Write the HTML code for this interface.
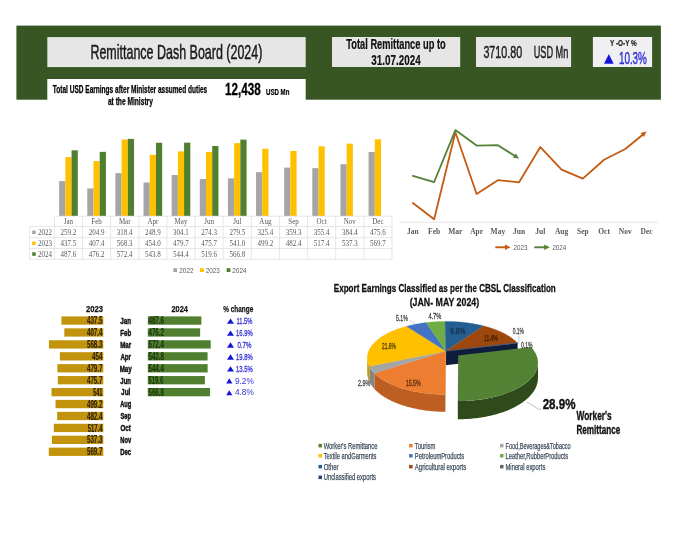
<!DOCTYPE html>
<html><head><meta charset="utf-8"><title>Remittance Dash Board (2024)</title>
<style>html,body{margin:0;padding:0;background:#fff}svg{display:block}</style></head>
<body>
<svg width="696" height="538" viewBox="0 0 696 538">
<rect width="696" height="538" fill="#ffffff"/>
<rect x="16.40" y="25.60" width="644.50" height="74.10" fill="#375623"/>
<rect x="47.30" y="37.10" width="258.40" height="30.00" fill="#e7e6e6"/>
<rect x="47.30" y="79.00" width="258.40" height="22.00" fill="#ffffff"/>
<rect x="332.00" y="37.00" width="128.20" height="30.00" fill="#e7e6e6"/>
<rect x="476.00" y="37.00" width="95.10" height="30.00" fill="#e7e6e6"/>
<rect x="592.90" y="37.00" width="59.20" height="30.00" fill="#f0f0f3"/>
<text x="176.40" y="59.00" font-family='"Liberation Sans", sans-serif' font-size="20.4" font-weight="normal" fill="#1a1a1a" text-anchor="middle" textLength="172.00" lengthAdjust="spacingAndGlyphs" stroke="#1a1a1a" stroke-width="0.5">Remittance Dash Board (2024)</text>
<text x="130.00" y="93.00" font-family='"Liberation Sans", sans-serif' font-size="10" font-weight="bold" fill="#000" text-anchor="middle" textLength="154.50" lengthAdjust="spacingAndGlyphs" stroke="#000" stroke-width="0.25">Total USD Earnings after Minister assumed duties</text>
<text x="130.40" y="104.90" font-family='"Liberation Sans", sans-serif' font-size="10" font-weight="bold" fill="#000" text-anchor="middle" textLength="45.00" lengthAdjust="spacingAndGlyphs" stroke="#000" stroke-width="0.25">at the Ministry</text>
<text x="225.00" y="95.00" font-family='"Liberation Sans", sans-serif' font-size="16.9" font-weight="bold" fill="#000" text-anchor="start" textLength="35.80" lengthAdjust="spacingAndGlyphs" stroke="#000" stroke-width="0.3">12,438</text>
<text x="266.00" y="95.00" font-family='"Liberation Sans", sans-serif' font-size="9.2" font-weight="bold" fill="#000" text-anchor="start" textLength="23.40" lengthAdjust="spacingAndGlyphs" stroke="#000" stroke-width="0.2">USD Mn</text>
<text x="396.00" y="48.50" font-family='"Liberation Sans", sans-serif' font-size="14.2" font-weight="bold" fill="#111" text-anchor="middle" textLength="99.30" lengthAdjust="spacingAndGlyphs" stroke="#111" stroke-width="0.2">Total Remittance up to</text>
<text x="396.00" y="65.20" font-family='"Liberation Sans", sans-serif' font-size="14.2" font-weight="bold" fill="#111" text-anchor="middle" textLength="49.40" lengthAdjust="spacingAndGlyphs" stroke="#111" stroke-width="0.2">31.07.2024</text>
<text x="483.40" y="57.80" font-family='"Liberation Sans", sans-serif' font-size="17.4" font-weight="normal" fill="#222" text-anchor="start" textLength="38.70" lengthAdjust="spacingAndGlyphs" stroke="#222" stroke-width="0.5">3710.80</text>
<text x="533.70" y="57.80" font-family='"Liberation Sans", sans-serif' font-size="16" font-weight="normal" fill="#222" text-anchor="start" textLength="34.60" lengthAdjust="spacingAndGlyphs" stroke="#222" stroke-width="0.5">USD Mn</text>
<text x="623.40" y="45.70" font-family='"Liberation Sans", sans-serif' font-size="8.6" font-weight="bold" fill="#222" text-anchor="middle" textLength="26.70" lengthAdjust="spacingAndGlyphs" stroke="#222" stroke-width="0.2">Y -O-Y %</text>
<path d="M604 63.7 L613.7 63.7 L608.85 54.1 Z" fill="#1414e0"/>
<text x="618.90" y="63.70" font-family='"Liberation Sans", sans-serif' font-size="16.4" font-weight="normal" fill="#3030d8" text-anchor="start" textLength="28.00" lengthAdjust="spacingAndGlyphs" stroke="#3030d8" stroke-width="0.45">10.3%</text>
<rect x="59.13" y="181.09" width="6.22" height="34.91" fill="#a5a5a5"/>
<rect x="65.35" y="157.07" width="6.22" height="58.93" fill="#ffc000"/>
<rect x="71.57" y="150.32" width="6.22" height="65.68" fill="#4f7f2f"/>
<rect x="87.26" y="188.40" width="6.22" height="27.60" fill="#a5a5a5"/>
<rect x="93.48" y="161.12" width="6.22" height="54.88" fill="#ffc000"/>
<rect x="99.70" y="151.86" width="6.22" height="64.14" fill="#4f7f2f"/>
<rect x="115.39" y="173.11" width="6.22" height="42.89" fill="#a5a5a5"/>
<rect x="121.61" y="139.45" width="6.22" height="76.55" fill="#ffc000"/>
<rect x="127.83" y="138.90" width="6.22" height="77.10" fill="#4f7f2f"/>
<rect x="143.52" y="182.47" width="6.22" height="33.53" fill="#a5a5a5"/>
<rect x="149.74" y="154.85" width="6.22" height="61.15" fill="#ffc000"/>
<rect x="155.96" y="142.75" width="6.22" height="73.25" fill="#4f7f2f"/>
<rect x="171.65" y="175.04" width="6.22" height="40.96" fill="#a5a5a5"/>
<rect x="177.87" y="151.38" width="6.22" height="64.62" fill="#ffc000"/>
<rect x="184.09" y="142.67" width="6.22" height="73.33" fill="#4f7f2f"/>
<rect x="199.78" y="179.05" width="6.22" height="36.95" fill="#a5a5a5"/>
<rect x="206.00" y="151.92" width="6.22" height="64.08" fill="#ffc000"/>
<rect x="212.22" y="146.01" width="6.22" height="69.99" fill="#4f7f2f"/>
<rect x="227.91" y="178.35" width="6.22" height="37.65" fill="#a5a5a5"/>
<rect x="234.13" y="143.13" width="6.22" height="72.87" fill="#ffc000"/>
<rect x="240.35" y="139.65" width="6.22" height="76.35" fill="#4f7f2f"/>
<rect x="256.04" y="172.17" width="6.22" height="43.83" fill="#a5a5a5"/>
<rect x="262.26" y="148.76" width="6.22" height="67.24" fill="#ffc000"/>
<rect x="284.17" y="167.60" width="6.22" height="48.40" fill="#a5a5a5"/>
<rect x="290.39" y="151.02" width="6.22" height="64.98" fill="#ffc000"/>
<rect x="312.30" y="168.13" width="6.22" height="47.87" fill="#a5a5a5"/>
<rect x="318.52" y="146.31" width="6.22" height="69.69" fill="#ffc000"/>
<rect x="340.43" y="164.22" width="6.22" height="51.78" fill="#a5a5a5"/>
<rect x="346.65" y="143.63" width="6.22" height="72.37" fill="#ffc000"/>
<rect x="368.56" y="151.94" width="6.22" height="64.06" fill="#a5a5a5"/>
<rect x="374.78" y="139.26" width="6.22" height="76.74" fill="#ffc000"/>
<path d="M54.40 216.20H391.96 M29.60 226.50H391.96 M29.60 237.70H391.96 M29.60 248.50H391.96 M29.60 259.30H391.96 M54.40 216.20V259.30 M82.53 216.20V259.30 M110.66 216.20V259.30 M138.79 216.20V259.30 M166.92 216.20V259.30 M195.05 216.20V259.30 M223.18 216.20V259.30 M251.31 216.20V259.30 M279.44 216.20V259.30 M307.57 216.20V259.30 M335.70 216.20V259.30 M363.83 216.20V259.30 M391.96 216.20V259.30 M29.6 226.50V259.30" stroke="#dcdcdc" stroke-width="0.7" fill="none"/>
<text x="68.47" y="223.80" font-family='"Liberation Serif", serif' font-size="8.2" font-weight="normal" fill="#595959" text-anchor="middle" textLength="9.33" lengthAdjust="spacingAndGlyphs">Jan</text>
<text x="68.47" y="235.20" font-family='"Liberation Serif", serif' font-size="8.2" font-weight="normal" fill="#595959" text-anchor="middle" textLength="15.75" lengthAdjust="spacingAndGlyphs">259.2</text>
<text x="68.47" y="246.20" font-family='"Liberation Serif", serif' font-size="8.2" font-weight="normal" fill="#595959" text-anchor="middle" textLength="15.75" lengthAdjust="spacingAndGlyphs">437.5</text>
<text x="68.47" y="257.00" font-family='"Liberation Serif", serif' font-size="8.2" font-weight="normal" fill="#595959" text-anchor="middle" textLength="15.75" lengthAdjust="spacingAndGlyphs">487.6</text>
<text x="96.59" y="223.80" font-family='"Liberation Serif", serif' font-size="8.2" font-weight="normal" fill="#595959" text-anchor="middle" textLength="10.50" lengthAdjust="spacingAndGlyphs">Feb</text>
<text x="96.59" y="235.20" font-family='"Liberation Serif", serif' font-size="8.2" font-weight="normal" fill="#595959" text-anchor="middle" textLength="15.75" lengthAdjust="spacingAndGlyphs">204.9</text>
<text x="96.59" y="246.20" font-family='"Liberation Serif", serif' font-size="8.2" font-weight="normal" fill="#595959" text-anchor="middle" textLength="15.75" lengthAdjust="spacingAndGlyphs">407.4</text>
<text x="96.59" y="257.00" font-family='"Liberation Serif", serif' font-size="8.2" font-weight="normal" fill="#595959" text-anchor="middle" textLength="15.75" lengthAdjust="spacingAndGlyphs">476.2</text>
<text x="124.72" y="223.80" font-family='"Liberation Serif", serif' font-size="8.2" font-weight="normal" fill="#595959" text-anchor="middle" textLength="11.66" lengthAdjust="spacingAndGlyphs">Mar</text>
<text x="124.72" y="235.20" font-family='"Liberation Serif", serif' font-size="8.2" font-weight="normal" fill="#595959" text-anchor="middle" textLength="15.75" lengthAdjust="spacingAndGlyphs">318.4</text>
<text x="124.72" y="246.20" font-family='"Liberation Serif", serif' font-size="8.2" font-weight="normal" fill="#595959" text-anchor="middle" textLength="15.75" lengthAdjust="spacingAndGlyphs">568.3</text>
<text x="124.72" y="257.00" font-family='"Liberation Serif", serif' font-size="8.2" font-weight="normal" fill="#595959" text-anchor="middle" textLength="15.75" lengthAdjust="spacingAndGlyphs">572.4</text>
<text x="152.85" y="223.80" font-family='"Liberation Serif", serif' font-size="8.2" font-weight="normal" fill="#595959" text-anchor="middle" textLength="10.89" lengthAdjust="spacingAndGlyphs">Apr</text>
<text x="152.85" y="235.20" font-family='"Liberation Serif", serif' font-size="8.2" font-weight="normal" fill="#595959" text-anchor="middle" textLength="15.75" lengthAdjust="spacingAndGlyphs">248.9</text>
<text x="152.85" y="246.20" font-family='"Liberation Serif", serif' font-size="8.2" font-weight="normal" fill="#595959" text-anchor="middle" textLength="15.75" lengthAdjust="spacingAndGlyphs">454.0</text>
<text x="152.85" y="257.00" font-family='"Liberation Serif", serif' font-size="8.2" font-weight="normal" fill="#595959" text-anchor="middle" textLength="15.75" lengthAdjust="spacingAndGlyphs">543.8</text>
<text x="180.98" y="223.80" font-family='"Liberation Serif", serif' font-size="8.2" font-weight="normal" fill="#595959" text-anchor="middle" textLength="12.83" lengthAdjust="spacingAndGlyphs">May</text>
<text x="180.98" y="235.20" font-family='"Liberation Serif", serif' font-size="8.2" font-weight="normal" fill="#595959" text-anchor="middle" textLength="15.75" lengthAdjust="spacingAndGlyphs">304.1</text>
<text x="180.98" y="246.20" font-family='"Liberation Serif", serif' font-size="8.2" font-weight="normal" fill="#595959" text-anchor="middle" textLength="15.75" lengthAdjust="spacingAndGlyphs">479.7</text>
<text x="180.98" y="257.00" font-family='"Liberation Serif", serif' font-size="8.2" font-weight="normal" fill="#595959" text-anchor="middle" textLength="15.75" lengthAdjust="spacingAndGlyphs">544.4</text>
<text x="209.12" y="223.80" font-family='"Liberation Serif", serif' font-size="8.2" font-weight="normal" fill="#595959" text-anchor="middle" textLength="9.72" lengthAdjust="spacingAndGlyphs">Jun</text>
<text x="209.12" y="235.20" font-family='"Liberation Serif", serif' font-size="8.2" font-weight="normal" fill="#595959" text-anchor="middle" textLength="15.75" lengthAdjust="spacingAndGlyphs">274.3</text>
<text x="209.12" y="246.20" font-family='"Liberation Serif", serif' font-size="8.2" font-weight="normal" fill="#595959" text-anchor="middle" textLength="15.75" lengthAdjust="spacingAndGlyphs">475.7</text>
<text x="209.12" y="257.00" font-family='"Liberation Serif", serif' font-size="8.2" font-weight="normal" fill="#595959" text-anchor="middle" textLength="15.75" lengthAdjust="spacingAndGlyphs">519.6</text>
<text x="237.25" y="223.80" font-family='"Liberation Serif", serif' font-size="8.2" font-weight="normal" fill="#595959" text-anchor="middle" textLength="8.17" lengthAdjust="spacingAndGlyphs">Jul</text>
<text x="237.25" y="235.20" font-family='"Liberation Serif", serif' font-size="8.2" font-weight="normal" fill="#595959" text-anchor="middle" textLength="15.75" lengthAdjust="spacingAndGlyphs">279.5</text>
<text x="237.25" y="246.20" font-family='"Liberation Serif", serif' font-size="8.2" font-weight="normal" fill="#595959" text-anchor="middle" textLength="15.75" lengthAdjust="spacingAndGlyphs">541.0</text>
<text x="237.25" y="257.00" font-family='"Liberation Serif", serif' font-size="8.2" font-weight="normal" fill="#595959" text-anchor="middle" textLength="15.75" lengthAdjust="spacingAndGlyphs">566.8</text>
<text x="265.38" y="223.80" font-family='"Liberation Serif", serif' font-size="8.2" font-weight="normal" fill="#595959" text-anchor="middle" textLength="12.06" lengthAdjust="spacingAndGlyphs">Aug</text>
<text x="265.38" y="235.20" font-family='"Liberation Serif", serif' font-size="8.2" font-weight="normal" fill="#595959" text-anchor="middle" textLength="15.75" lengthAdjust="spacingAndGlyphs">325.4</text>
<text x="265.38" y="246.20" font-family='"Liberation Serif", serif' font-size="8.2" font-weight="normal" fill="#595959" text-anchor="middle" textLength="15.75" lengthAdjust="spacingAndGlyphs">499.2</text>
<text x="293.50" y="223.80" font-family='"Liberation Serif", serif' font-size="8.2" font-weight="normal" fill="#595959" text-anchor="middle" textLength="10.50" lengthAdjust="spacingAndGlyphs">Sep</text>
<text x="293.50" y="235.20" font-family='"Liberation Serif", serif' font-size="8.2" font-weight="normal" fill="#595959" text-anchor="middle" textLength="15.75" lengthAdjust="spacingAndGlyphs">359.3</text>
<text x="293.50" y="246.20" font-family='"Liberation Serif", serif' font-size="8.2" font-weight="normal" fill="#595959" text-anchor="middle" textLength="15.75" lengthAdjust="spacingAndGlyphs">482.4</text>
<text x="321.63" y="223.80" font-family='"Liberation Serif", serif' font-size="8.2" font-weight="normal" fill="#595959" text-anchor="middle" textLength="10.11" lengthAdjust="spacingAndGlyphs">Oct</text>
<text x="321.63" y="235.20" font-family='"Liberation Serif", serif' font-size="8.2" font-weight="normal" fill="#595959" text-anchor="middle" textLength="15.75" lengthAdjust="spacingAndGlyphs">355.4</text>
<text x="321.63" y="246.20" font-family='"Liberation Serif", serif' font-size="8.2" font-weight="normal" fill="#595959" text-anchor="middle" textLength="15.75" lengthAdjust="spacingAndGlyphs">517.4</text>
<text x="349.76" y="223.80" font-family='"Liberation Serif", serif' font-size="8.2" font-weight="normal" fill="#595959" text-anchor="middle" textLength="12.06" lengthAdjust="spacingAndGlyphs">Nov</text>
<text x="349.76" y="235.20" font-family='"Liberation Serif", serif' font-size="8.2" font-weight="normal" fill="#595959" text-anchor="middle" textLength="15.75" lengthAdjust="spacingAndGlyphs">384.4</text>
<text x="349.76" y="246.20" font-family='"Liberation Serif", serif' font-size="8.2" font-weight="normal" fill="#595959" text-anchor="middle" textLength="15.75" lengthAdjust="spacingAndGlyphs">537.3</text>
<text x="377.89" y="223.80" font-family='"Liberation Serif", serif' font-size="8.2" font-weight="normal" fill="#595959" text-anchor="middle" textLength="11.27" lengthAdjust="spacingAndGlyphs">Dec</text>
<text x="377.89" y="235.20" font-family='"Liberation Serif", serif' font-size="8.2" font-weight="normal" fill="#595959" text-anchor="middle" textLength="15.75" lengthAdjust="spacingAndGlyphs">475.6</text>
<text x="377.89" y="246.20" font-family='"Liberation Serif", serif' font-size="8.2" font-weight="normal" fill="#595959" text-anchor="middle" textLength="15.75" lengthAdjust="spacingAndGlyphs">569.7</text>
<rect x="32.20" y="230.50" width="3.50" height="3.50" fill="#a5a5a5"/>
<text x="37.90" y="235.20" font-family='"Liberation Serif", serif' font-size="8.2" font-weight="normal" fill="#595959" text-anchor="start" textLength="14.00" lengthAdjust="spacingAndGlyphs">2022</text>
<rect x="32.20" y="241.50" width="3.50" height="3.50" fill="#ffc000"/>
<text x="37.90" y="246.20" font-family='"Liberation Serif", serif' font-size="8.2" font-weight="normal" fill="#595959" text-anchor="start" textLength="14.00" lengthAdjust="spacingAndGlyphs">2023</text>
<rect x="32.20" y="252.30" width="3.50" height="3.50" fill="#4f7f2f"/>
<text x="37.90" y="257.00" font-family='"Liberation Serif", serif' font-size="8.2" font-weight="normal" fill="#595959" text-anchor="start" textLength="14.00" lengthAdjust="spacingAndGlyphs">2024</text>
<rect x="173.30" y="268.20" width="3.80" height="3.80" fill="#a5a5a5"/>
<text x="179.30" y="272.60" font-family='"Liberation Sans", sans-serif' font-size="7.4" font-weight="normal" fill="#595959" text-anchor="start" textLength="14.20" lengthAdjust="spacingAndGlyphs">2022</text>
<rect x="200.00" y="268.20" width="3.80" height="3.80" fill="#ffc000"/>
<text x="205.70" y="272.60" font-family='"Liberation Sans", sans-serif' font-size="7.4" font-weight="normal" fill="#595959" text-anchor="start" textLength="14.20" lengthAdjust="spacingAndGlyphs">2023</text>
<rect x="226.60" y="268.20" width="3.80" height="3.80" fill="#4f7f2f"/>
<text x="232.30" y="272.60" font-family='"Liberation Sans", sans-serif' font-size="7.4" font-weight="normal" fill="#595959" text-anchor="start" textLength="14.20" lengthAdjust="spacingAndGlyphs">2024</text>
<path d="M399.5 222.3H657.6" stroke="#e0e0e0" stroke-width="0.8" fill="none"/>
<path d="M412.90 202.93 L434.14 219.19 L455.38 132.30 L476.62 194.02 L497.86 180.14 L519.10 182.30 L540.34 147.04 L561.58 169.61 L582.82 178.69 L604.06 159.79 L625.30 149.04 L644.22 133.45" stroke="#c55a11" stroke-width="1.8" fill="none" stroke-linejoin="round" stroke-linecap="round"/>
<path d="M646.54 131.54 L643.87 137.11 L640.56 133.10Z" fill="#c55a11"/>
<path d="M412.90 175.88 L434.14 182.03 L455.38 130.09 L476.62 145.53 L497.86 145.21 L516.56 157.00" stroke="#538135" stroke-width="1.8" fill="none" stroke-linejoin="round" stroke-linecap="round"/>
<path d="M519.10 158.60 L512.98 157.81 L515.75 153.41Z" fill="#538135"/>
<text x="412.90" y="233.60" font-family='"Liberation Serif", serif' font-size="8.2" font-weight="bold" fill="#595959" text-anchor="middle" textLength="11.67" lengthAdjust="spacingAndGlyphs">Jan</text>
<text x="434.14" y="233.60" font-family='"Liberation Serif", serif' font-size="8.2" font-weight="bold" fill="#595959" text-anchor="middle" textLength="12.08" lengthAdjust="spacingAndGlyphs">Feb</text>
<text x="455.38" y="233.60" font-family='"Liberation Serif", serif' font-size="8.2" font-weight="bold" fill="#595959" text-anchor="middle" textLength="14.16" lengthAdjust="spacingAndGlyphs">Mar</text>
<text x="476.62" y="233.60" font-family='"Liberation Serif", serif' font-size="8.2" font-weight="bold" fill="#595959" text-anchor="middle" textLength="12.92" lengthAdjust="spacingAndGlyphs">Apr</text>
<text x="497.86" y="233.60" font-family='"Liberation Serif", serif' font-size="8.2" font-weight="bold" fill="#595959" text-anchor="middle" textLength="14.58" lengthAdjust="spacingAndGlyphs">May</text>
<text x="519.10" y="233.60" font-family='"Liberation Serif", serif' font-size="8.2" font-weight="bold" fill="#595959" text-anchor="middle" textLength="12.09" lengthAdjust="spacingAndGlyphs">Jun</text>
<text x="540.34" y="233.60" font-family='"Liberation Serif", serif' font-size="8.2" font-weight="bold" fill="#595959" text-anchor="middle" textLength="10.00" lengthAdjust="spacingAndGlyphs">Jul</text>
<text x="561.58" y="233.60" font-family='"Liberation Serif", serif' font-size="8.2" font-weight="bold" fill="#595959" text-anchor="middle" textLength="13.34" lengthAdjust="spacingAndGlyphs">Aug</text>
<text x="582.82" y="233.60" font-family='"Liberation Serif", serif' font-size="8.2" font-weight="bold" fill="#595959" text-anchor="middle" textLength="11.67" lengthAdjust="spacingAndGlyphs">Sep</text>
<text x="604.06" y="233.60" font-family='"Liberation Serif", serif' font-size="8.2" font-weight="bold" fill="#595959" text-anchor="middle" textLength="11.66" lengthAdjust="spacingAndGlyphs">Oct</text>
<text x="625.30" y="233.60" font-family='"Liberation Serif", serif' font-size="8.2" font-weight="bold" fill="#595959" text-anchor="middle" textLength="12.92" lengthAdjust="spacingAndGlyphs">Nov</text>
<text x="646.54" y="233.60" font-family='"Liberation Serif", serif' font-size="8.2" font-weight="bold" fill="#595959" text-anchor="middle" textLength="12.07" lengthAdjust="spacingAndGlyphs">Dec</text>
<path d="M495.3 247.3H506" stroke="#c55a11" stroke-width="1.9"/>
<path d="M510.60 247.30 L505.00 250.00 L505.00 244.60Z" fill="#c55a11"/>
<path d="M534.3 247.3H545" stroke="#538135" stroke-width="1.9"/>
<path d="M549.80 247.30 L544.20 250.00 L544.20 244.60Z" fill="#538135"/>
<text x="513.50" y="250.00" font-family='"Liberation Sans", sans-serif' font-size="7.5" font-weight="normal" fill="#595959" text-anchor="start" textLength="13.90" lengthAdjust="spacingAndGlyphs">2023</text>
<text x="552.40" y="250.00" font-family='"Liberation Sans", sans-serif' font-size="7.5" font-weight="normal" fill="#595959" text-anchor="start" textLength="13.90" lengthAdjust="spacingAndGlyphs">2024</text>
<text x="103.00" y="311.90" font-family='"Liberation Sans", sans-serif' font-size="9.6" font-weight="bold" fill="#111" text-anchor="end" textLength="17.00" lengthAdjust="spacingAndGlyphs" stroke="#111" stroke-width="0.25">2023</text>
<text x="179.70" y="311.90" font-family='"Liberation Sans", sans-serif' font-size="9.6" font-weight="bold" fill="#111" text-anchor="middle" textLength="16.40" lengthAdjust="spacingAndGlyphs" stroke="#111" stroke-width="0.25">2024</text>
<text x="238.30" y="311.90" font-family='"Liberation Sans", sans-serif' font-size="9.6" font-weight="bold" fill="#111" text-anchor="middle" textLength="30.00" lengthAdjust="spacingAndGlyphs" stroke="#111" stroke-width="0.25">% change</text>
<rect x="61.43" y="316.40" width="41.87" height="8.30" fill="#c2940e"/>
<text x="102.60" y="324.15" font-family='"Liberation Sans", sans-serif' font-size="10.2" font-weight="bold" fill="#33270a" text-anchor="end" textLength="15.70" lengthAdjust="spacingAndGlyphs" stroke="#33270a" stroke-width="0.2">437.5</text>
<text x="125.70" y="323.85" font-family='"Liberation Sans", sans-serif' font-size="9.4" font-weight="bold" fill="#111" text-anchor="middle" textLength="10.70" lengthAdjust="spacingAndGlyphs" stroke="#111" stroke-width="0.5">Jan</text>
<rect x="147.80" y="316.40" width="53.59" height="8.30" fill="#4f7f2f"/>
<text x="148.40" y="324.15" font-family='"Liberation Sans", sans-serif' font-size="10.2" font-weight="bold" fill="#1f3a0c" text-anchor="start" textLength="15.70" lengthAdjust="spacingAndGlyphs" stroke="#1f3a0c" stroke-width="0.2">487.6</text>
<path d="M227 323.85h7l-3.5 -5.4z" fill="#1414e0"/>
<text x="244.40" y="323.95" font-family='"Liberation Sans", sans-serif' font-size="9.3" font-weight="normal" fill="#3030d8" text-anchor="middle" textLength="15.90" lengthAdjust="spacingAndGlyphs" stroke="#3030d8" stroke-width="0.3">11.5%</text>
<rect x="64.31" y="328.33" width="38.99" height="8.30" fill="#c2940e"/>
<text x="102.60" y="336.08" font-family='"Liberation Sans", sans-serif' font-size="10.2" font-weight="bold" fill="#33270a" text-anchor="end" textLength="15.70" lengthAdjust="spacingAndGlyphs" stroke="#33270a" stroke-width="0.2">407.4</text>
<text x="125.70" y="335.78" font-family='"Liberation Sans", sans-serif' font-size="9.4" font-weight="bold" fill="#111" text-anchor="middle" textLength="10.80" lengthAdjust="spacingAndGlyphs" stroke="#111" stroke-width="0.5">Feb</text>
<rect x="147.80" y="328.33" width="52.33" height="8.30" fill="#4f7f2f"/>
<text x="148.40" y="336.08" font-family='"Liberation Sans", sans-serif' font-size="10.2" font-weight="bold" fill="#1f3a0c" text-anchor="start" textLength="15.70" lengthAdjust="spacingAndGlyphs" stroke="#1f3a0c" stroke-width="0.2">476.2</text>
<path d="M227 335.78h7l-3.5 -5.4z" fill="#1414e0"/>
<text x="244.40" y="335.88" font-family='"Liberation Sans", sans-serif' font-size="9.3" font-weight="normal" fill="#3030d8" text-anchor="middle" textLength="16.70" lengthAdjust="spacingAndGlyphs" stroke="#3030d8" stroke-width="0.3">16.9%</text>
<rect x="48.91" y="340.26" width="54.39" height="8.30" fill="#c2940e"/>
<text x="102.60" y="348.01" font-family='"Liberation Sans", sans-serif' font-size="10.2" font-weight="bold" fill="#33270a" text-anchor="end" textLength="15.70" lengthAdjust="spacingAndGlyphs" stroke="#33270a" stroke-width="0.2">568.3</text>
<text x="125.70" y="347.71" font-family='"Liberation Sans", sans-serif' font-size="9.4" font-weight="bold" fill="#111" text-anchor="middle" textLength="11.00" lengthAdjust="spacingAndGlyphs" stroke="#111" stroke-width="0.5">Mar</text>
<rect x="147.80" y="340.26" width="62.91" height="8.30" fill="#4f7f2f"/>
<text x="148.40" y="348.01" font-family='"Liberation Sans", sans-serif' font-size="10.2" font-weight="bold" fill="#1f3a0c" text-anchor="start" textLength="15.70" lengthAdjust="spacingAndGlyphs" stroke="#1f3a0c" stroke-width="0.2">572.4</text>
<path d="M227 347.71h7l-3.5 -5.4z" fill="#1414e0"/>
<text x="244.40" y="347.81" font-family='"Liberation Sans", sans-serif' font-size="9.3" font-weight="normal" fill="#3030d8" text-anchor="middle" textLength="14.00" lengthAdjust="spacingAndGlyphs" stroke="#3030d8" stroke-width="0.3">0.7%</text>
<rect x="59.85" y="352.19" width="43.45" height="8.30" fill="#c2940e"/>
<text x="102.60" y="359.94" font-family='"Liberation Sans", sans-serif' font-size="10.2" font-weight="bold" fill="#33270a" text-anchor="end" textLength="10.50" lengthAdjust="spacingAndGlyphs" stroke="#33270a" stroke-width="0.2">454</text>
<text x="125.70" y="359.64" font-family='"Liberation Sans", sans-serif' font-size="9.4" font-weight="bold" fill="#111" text-anchor="middle" textLength="10.60" lengthAdjust="spacingAndGlyphs" stroke="#111" stroke-width="0.5">Apr</text>
<rect x="147.80" y="352.19" width="59.76" height="8.30" fill="#4f7f2f"/>
<text x="148.40" y="359.94" font-family='"Liberation Sans", sans-serif' font-size="10.2" font-weight="bold" fill="#1f3a0c" text-anchor="start" textLength="15.70" lengthAdjust="spacingAndGlyphs" stroke="#1f3a0c" stroke-width="0.2">543.8</text>
<path d="M227 359.64h7l-3.5 -5.4z" fill="#1414e0"/>
<text x="244.40" y="359.74" font-family='"Liberation Sans", sans-serif' font-size="9.3" font-weight="normal" fill="#3030d8" text-anchor="middle" textLength="16.70" lengthAdjust="spacingAndGlyphs" stroke="#3030d8" stroke-width="0.3">19.8%</text>
<rect x="57.39" y="364.12" width="45.91" height="8.30" fill="#c2940e"/>
<text x="102.60" y="371.87" font-family='"Liberation Sans", sans-serif' font-size="10.2" font-weight="bold" fill="#33270a" text-anchor="end" textLength="15.70" lengthAdjust="spacingAndGlyphs" stroke="#33270a" stroke-width="0.2">479.7</text>
<text x="125.70" y="371.57" font-family='"Liberation Sans", sans-serif' font-size="9.4" font-weight="bold" fill="#111" text-anchor="middle" textLength="12.10" lengthAdjust="spacingAndGlyphs" stroke="#111" stroke-width="0.5">May</text>
<rect x="147.80" y="364.12" width="59.83" height="8.30" fill="#4f7f2f"/>
<text x="148.40" y="371.87" font-family='"Liberation Sans", sans-serif' font-size="10.2" font-weight="bold" fill="#1f3a0c" text-anchor="start" textLength="15.70" lengthAdjust="spacingAndGlyphs" stroke="#1f3a0c" stroke-width="0.2">544.4</text>
<path d="M227 371.57h7l-3.5 -5.4z" fill="#1414e0"/>
<text x="244.40" y="371.67" font-family='"Liberation Sans", sans-serif' font-size="9.3" font-weight="normal" fill="#3030d8" text-anchor="middle" textLength="16.70" lengthAdjust="spacingAndGlyphs" stroke="#3030d8" stroke-width="0.3">13.5%</text>
<rect x="57.78" y="376.05" width="45.52" height="8.30" fill="#c2940e"/>
<text x="102.60" y="383.80" font-family='"Liberation Sans", sans-serif' font-size="10.2" font-weight="bold" fill="#33270a" text-anchor="end" textLength="15.70" lengthAdjust="spacingAndGlyphs" stroke="#33270a" stroke-width="0.2">475.7</text>
<text x="125.70" y="383.50" font-family='"Liberation Sans", sans-serif' font-size="9.4" font-weight="bold" fill="#111" text-anchor="middle" textLength="10.70" lengthAdjust="spacingAndGlyphs" stroke="#111" stroke-width="0.5">Jun</text>
<rect x="147.80" y="376.05" width="57.10" height="8.30" fill="#4f7f2f"/>
<text x="148.40" y="383.80" font-family='"Liberation Sans", sans-serif' font-size="10.2" font-weight="bold" fill="#1f3a0c" text-anchor="start" textLength="14.90" lengthAdjust="spacingAndGlyphs" stroke="#1f3a0c" stroke-width="0.2">519.6</text>
<path d="M226.2 383.40h6.2l-3.1 -5.2z" fill="#1414e0"/>
<text x="244.40" y="383.50" font-family='"Liberation Sans", sans-serif' font-size="8.3" font-weight="normal" fill="#3030d8" text-anchor="middle">9.2%</text>
<rect x="51.53" y="387.98" width="51.77" height="8.30" fill="#c2940e"/>
<text x="102.60" y="395.73" font-family='"Liberation Sans", sans-serif' font-size="10.2" font-weight="bold" fill="#33270a" text-anchor="end" textLength="9.70" lengthAdjust="spacingAndGlyphs" stroke="#33270a" stroke-width="0.2">541</text>
<text x="125.70" y="395.43" font-family='"Liberation Sans", sans-serif' font-size="9.4" font-weight="bold" fill="#111" text-anchor="middle" textLength="9.20" lengthAdjust="spacingAndGlyphs" stroke="#111" stroke-width="0.5">Jul</text>
<rect x="147.80" y="387.98" width="62.29" height="8.30" fill="#4f7f2f"/>
<text x="148.40" y="395.73" font-family='"Liberation Sans", sans-serif' font-size="10.2" font-weight="bold" fill="#1f3a0c" text-anchor="start" textLength="15.70" lengthAdjust="spacingAndGlyphs" stroke="#1f3a0c" stroke-width="0.2">566.8</text>
<path d="M226.2 395.33h6.2l-3.1 -5.2z" fill="#1414e0"/>
<text x="244.40" y="395.43" font-family='"Liberation Sans", sans-serif' font-size="8.3" font-weight="normal" fill="#3030d8" text-anchor="middle">4.8%</text>
<rect x="55.53" y="399.91" width="47.77" height="8.30" fill="#c2940e"/>
<text x="102.60" y="407.66" font-family='"Liberation Sans", sans-serif' font-size="10.2" font-weight="bold" fill="#33270a" text-anchor="end" textLength="15.70" lengthAdjust="spacingAndGlyphs" stroke="#33270a" stroke-width="0.2">499.2</text>
<text x="125.70" y="407.36" font-family='"Liberation Sans", sans-serif' font-size="9.4" font-weight="bold" fill="#111" text-anchor="middle" textLength="10.90" lengthAdjust="spacingAndGlyphs" stroke="#111" stroke-width="0.5">Aug</text>
<rect x="57.13" y="411.84" width="46.17" height="8.30" fill="#c2940e"/>
<text x="102.60" y="419.59" font-family='"Liberation Sans", sans-serif' font-size="10.2" font-weight="bold" fill="#33270a" text-anchor="end" textLength="15.70" lengthAdjust="spacingAndGlyphs" stroke="#33270a" stroke-width="0.2">482.4</text>
<text x="125.70" y="419.29" font-family='"Liberation Sans", sans-serif' font-size="9.4" font-weight="bold" fill="#111" text-anchor="middle" textLength="10.60" lengthAdjust="spacingAndGlyphs" stroke="#111" stroke-width="0.5">Sep</text>
<rect x="53.78" y="423.77" width="49.52" height="8.30" fill="#c2940e"/>
<text x="102.60" y="431.52" font-family='"Liberation Sans", sans-serif' font-size="10.2" font-weight="bold" fill="#33270a" text-anchor="end" textLength="14.90" lengthAdjust="spacingAndGlyphs" stroke="#33270a" stroke-width="0.2">517.4</text>
<text x="125.70" y="431.22" font-family='"Liberation Sans", sans-serif' font-size="9.4" font-weight="bold" fill="#111" text-anchor="middle" textLength="10.20" lengthAdjust="spacingAndGlyphs" stroke="#111" stroke-width="0.5">Oct</text>
<rect x="51.88" y="435.70" width="51.42" height="8.30" fill="#c2940e"/>
<text x="102.60" y="443.45" font-family='"Liberation Sans", sans-serif' font-size="10.2" font-weight="bold" fill="#33270a" text-anchor="end" textLength="15.70" lengthAdjust="spacingAndGlyphs" stroke="#33270a" stroke-width="0.2">537.3</text>
<text x="125.70" y="443.15" font-family='"Liberation Sans", sans-serif' font-size="9.4" font-weight="bold" fill="#111" text-anchor="middle" textLength="10.90" lengthAdjust="spacingAndGlyphs" stroke="#111" stroke-width="0.5">Nov</text>
<rect x="48.78" y="447.63" width="54.52" height="8.30" fill="#c2940e"/>
<text x="102.60" y="455.38" font-family='"Liberation Sans", sans-serif' font-size="10.2" font-weight="bold" fill="#33270a" text-anchor="end" textLength="15.70" lengthAdjust="spacingAndGlyphs" stroke="#33270a" stroke-width="0.2">569.7</text>
<text x="125.70" y="455.08" font-family='"Liberation Sans", sans-serif' font-size="9.4" font-weight="bold" fill="#111" text-anchor="middle" textLength="10.80" lengthAdjust="spacingAndGlyphs" stroke="#111" stroke-width="0.5">Dec</text>
<!--PIE-->
<text x="444.80" y="292.20" font-family='"Liberation Sans", sans-serif' font-size="11.6" font-weight="bold" fill="#111" text-anchor="middle" textLength="222.00" lengthAdjust="spacingAndGlyphs" stroke="#111" stroke-width="0.3">Export Earnings Classified as per the CBSL Classification</text>
<text x="444.40" y="305.90" font-family='"Liberation Sans", sans-serif' font-size="11.6" font-weight="bold" fill="#111" text-anchor="middle" textLength="69.50" lengthAdjust="spacingAndGlyphs" stroke="#111" stroke-width="0.3">(JAN- MAY 2024)</text>
<path d="M445.80 351.10 L517.62 343.10 L517.62 356.57 L445.80 365.16Z" fill="#0f1d3c"/>
<path d="M445.80 351.10 L445.41 394.49 L445.41 411.79 L445.80 365.16Z" fill="#bd5f22"/>
<path d="M445.41 394.49 L443.73 394.47 L442.05 394.44 L440.37 394.40 L438.70 394.34 L437.03 394.26 L435.36 394.16 L433.70 394.05 L432.05 393.92 L430.40 393.78 L428.76 393.62 L427.13 393.44 L425.51 393.25 L423.90 393.04 L422.31 392.82 L420.72 392.58 L419.15 392.32 L417.59 392.05 L416.04 391.77 L414.51 391.47 L413.00 391.15 L411.51 390.82 L410.03 390.48 L408.56 390.12 L407.12 389.75 L405.70 389.37 L404.30 388.98 L402.91 388.57 L401.55 388.14 L400.21 387.71 L398.89 387.26 L397.60 386.81 L396.33 386.34 L395.08 385.86 L393.86 385.37 L392.66 384.87 L391.48 384.35 L390.34 383.83 L389.21 383.30 L388.12 382.76 L387.05 382.21 L386.00 381.66 L384.99 381.09 L384.00 380.52 L383.04 379.94 L382.10 379.35 L381.20 378.75 L380.32 378.15 L379.47 377.54 L378.65 376.93 L377.85 376.31 L377.09 375.68 L376.36 375.05 L375.65 374.42 L374.97 373.78 L374.32 373.14 L374.32 388.84 L374.97 389.53 L375.65 390.22 L376.36 390.90 L377.09 391.58 L377.85 392.25 L378.65 392.92 L379.47 393.58 L380.32 394.23 L381.20 394.88 L382.10 395.52 L383.04 396.15 L384.00 396.77 L384.99 397.39 L386.00 398.00 L387.05 398.60 L388.12 399.19 L389.21 399.77 L390.34 400.34 L391.48 400.90 L392.66 401.45 L393.86 401.99 L395.08 402.51 L396.33 403.03 L397.60 403.53 L398.89 404.03 L400.21 404.50 L401.55 404.97 L402.91 405.42 L404.30 405.86 L405.70 406.29 L407.12 406.70 L408.56 407.10 L410.03 407.48 L411.51 407.85 L413.00 408.20 L414.51 408.54 L416.04 408.86 L417.59 409.17 L419.15 409.46 L420.72 409.73 L422.31 409.99 L423.90 410.23 L425.51 410.46 L427.13 410.66 L428.76 410.85 L430.40 411.03 L432.05 411.18 L433.70 411.32 L435.36 411.44 L437.03 411.54 L438.70 411.63 L440.37 411.69 L442.05 411.74 L443.73 411.77 L445.41 411.79Z" fill="#bd5f22"/>
<path d="M374.32 373.14 L373.69 372.47 L373.08 371.80 L372.50 371.13 L371.96 370.45 L371.44 369.77 L370.96 369.09 L370.50 368.41 L370.08 367.73 L369.68 367.04 L369.32 366.35 L369.32 381.55 L369.68 382.29 L370.08 383.03 L370.50 383.76 L370.96 384.50 L371.44 385.23 L371.96 385.96 L372.50 386.68 L373.08 387.41 L373.69 388.13 L374.32 388.84Z" fill="#858585"/>
<path d="M369.32 366.35 L368.98 365.65 L368.67 364.95 L368.39 364.24 L368.14 363.54 L367.92 362.84 L367.73 362.13 L367.57 361.43 L367.44 360.73 L367.34 360.03 L367.27 359.33 L367.22 358.64 L367.21 357.94 L367.21 372.52 L367.22 373.26 L367.27 374.01 L367.34 374.76 L367.44 375.51 L367.57 376.26 L367.73 377.02 L367.92 377.77 L368.14 378.53 L368.39 379.29 L368.67 380.04 L368.98 380.80 L369.32 381.55Z" fill="#cc9a00"/>
<path d="M445.80 351.10 L445.41 394.49 L444.58 394.48 L443.74 394.47 L442.91 394.46 L442.08 394.45 L441.25 394.42 L440.42 394.40 L439.59 394.37 L438.76 394.34 L437.93 394.30 L437.10 394.26 L436.28 394.22 L435.45 394.17 L434.63 394.12 L433.81 394.06 L432.99 394.00 L432.17 393.93 L431.35 393.86 L430.53 393.79 L429.72 393.71 L428.91 393.63 L428.10 393.55 L427.29 393.46 L426.49 393.37 L425.69 393.27 L424.89 393.17 L424.09 393.06 L423.30 392.96 L422.51 392.84 L421.72 392.73 L420.93 392.61 L420.15 392.49 L419.37 392.36 L418.60 392.23 L417.83 392.09 L417.06 391.95 L416.29 391.81 L415.53 391.67 L414.78 391.52 L414.02 391.37 L413.27 391.21 L412.53 391.05 L411.79 390.89 L411.05 390.72 L410.32 390.55 L409.59 390.38 L408.87 390.20 L408.15 390.02 L407.43 389.84 L406.72 389.65 L406.02 389.46 L405.32 389.27 L404.62 389.07 L403.93 388.87 L403.25 388.67 L402.57 388.46 L401.89 388.25 L401.22 388.04 L400.56 387.82 L399.90 387.61 L399.25 387.39 L398.60 387.16 L397.96 386.94 L397.32 386.71 L396.69 386.47 L396.07 386.24 L395.45 386.00 L394.84 385.76 L394.23 385.52 L393.63 385.27 L393.03 385.03 L392.44 384.77 L391.86 384.52 L391.29 384.27 L390.72 384.01 L390.15 383.75 L389.59 383.49 L389.04 383.22 L388.50 382.95 L387.96 382.68 L387.43 382.41 L386.90 382.14 L386.38 381.86 L385.87 381.59 L385.37 381.31 L384.87 381.02 L384.38 380.74 L383.89 380.45 L383.41 380.17 L382.94 379.88 L382.48 379.59 L382.02 379.29 L381.57 379.00 L381.12 378.70 L380.69 378.41 L380.26 378.11 L379.83 377.81 L379.42 377.50 L379.01 377.20 L378.60 376.89 L378.21 376.59 L377.82 376.28 L377.44 375.97 L377.06 375.66 L376.70 375.35 L376.34 375.04 L375.98 374.72 L375.64 374.41 L375.30 374.09 L374.97 373.77 L374.64 373.46 L374.32 373.14Z" fill="#ed7d31" stroke="#ed7d31" stroke-width="0.3"/>
<path d="M445.80 351.10 L374.32 373.14 L374.00 372.80 L373.69 372.47 L373.38 372.14 L373.08 371.80 L372.79 371.47 L372.50 371.13 L372.23 370.79 L371.96 370.45 L371.70 370.11 L371.44 369.77 L371.20 369.43 L370.96 369.09 L370.73 368.75 L370.50 368.41 L370.29 368.07 L370.08 367.73 L369.88 367.38 L369.68 367.04 L369.50 366.70 L369.32 366.35Z" fill="#a5a5a5" stroke="#a5a5a5" stroke-width="0.3"/>
<path d="M445.80 351.10 L369.32 366.35 L369.15 366.02 L369.00 365.69 L368.85 365.36 L368.70 365.03 L368.56 364.70 L368.43 364.37 L368.31 364.04 L368.19 363.71 L368.08 363.38 L367.98 363.05 L367.88 362.72 L367.79 362.39 L367.71 362.06 L367.63 361.73 L367.56 361.40 L367.50 361.07 L367.44 360.74 L367.39 360.41 L367.34 360.08 L367.31 359.75 L367.27 359.42 L367.25 359.10 L367.23 358.77 L367.22 358.44 L367.21 358.12 L367.21 357.79 L367.22 357.47 L367.23 357.14 L367.25 356.82 L367.27 356.50 L367.30 356.17 L367.34 355.85 L367.38 355.53 L367.43 355.21 L367.48 354.89 L367.54 354.57 L367.61 354.25 L367.68 353.94 L367.76 353.62 L367.85 353.30 L367.93 352.99 L368.03 352.68 L368.13 352.36 L368.24 352.05 L368.35 351.74 L368.47 351.43 L368.59 351.12 L368.72 350.81 L368.85 350.51 L368.99 350.20 L369.14 349.90 L369.29 349.59 L369.45 349.29 L369.61 348.99 L369.77 348.69 L369.94 348.39 L370.12 348.09 L370.30 347.79 L370.49 347.50 L370.68 347.20 L370.88 346.91 L371.08 346.62 L371.29 346.33 L371.50 346.04 L371.72 345.75 L371.94 345.46 L372.16 345.18 L372.39 344.89 L372.63 344.61 L372.87 344.33 L373.11 344.05 L373.36 343.77 L373.62 343.49 L373.88 343.22 L374.14 342.94 L374.41 342.67 L374.68 342.40 L374.95 342.13 L375.24 341.86 L375.52 341.59 L375.81 341.32 L376.10 341.06 L376.40 340.80 L376.70 340.53 L377.01 340.28 L377.32 340.02 L377.63 339.76 L377.95 339.51 L378.27 339.25 L378.60 339.00 L378.93 338.75 L379.26 338.50 L379.60 338.25 L379.94 338.01 L380.28 337.76 L380.63 337.52 L380.98 337.28 L381.34 337.04 L381.70 336.80 L382.06 336.57 L382.43 336.33 L382.80 336.10 L383.17 335.87 L383.55 335.64 L383.93 335.41 L384.31 335.19 L384.70 334.96 L385.09 334.74 L385.48 334.52 L385.87 334.30 L386.27 334.08 L386.68 333.87 L387.08 333.66 L387.49 333.44 L387.90 333.23 L388.32 333.02 L388.74 332.82 L389.16 332.61 L389.58 332.41 L390.01 332.21 L390.44 332.01 L390.87 331.81 L391.30 331.61 L391.74 331.42 L392.18 331.23 L392.62 331.04 L393.07 330.85 L393.52 330.66 L393.97 330.48 L394.42 330.29 L394.88 330.11 L395.34 329.93 L395.80 329.75 L396.26 329.58 L396.72 329.40 L397.19 329.23 L397.66 329.06 L398.13 328.89 L398.61 328.72 L399.09 328.56 L399.57 328.39 L400.05 328.23 L400.53 328.07 L401.02 327.92 L401.50 327.76 L401.99 327.61 L402.48 327.45 L402.98 327.30 L403.47 327.15 L403.97 327.01 L404.47 326.86 L404.97 326.72 L405.48 326.58 L405.98 326.44 L406.49 326.30Z" fill="#ffc000" stroke="#ffc000" stroke-width="0.3"/>
<path d="M445.80 351.10 L406.49 326.30 L407.00 326.16 L407.52 326.03 L408.04 325.90 L408.57 325.76 L409.09 325.63 L409.62 325.51 L410.14 325.38 L410.67 325.26 L411.20 325.13 L411.74 325.01 L412.27 324.90 L412.80 324.78 L413.34 324.66 L413.88 324.55 L414.42 324.44 L414.96 324.33 L415.50 324.23 L416.05 324.12 L416.59 324.02 L417.14 323.92 L417.68 323.82 L418.23 323.72 L418.78 323.63 L419.33 323.54 L419.89 323.45 L420.44 323.36 L420.99 323.27 L421.55 323.19 L422.11 323.10 L422.66 323.02 L423.22 322.94 L423.78 322.87 L424.34 322.79 L424.90 322.72 L425.47 322.65 L426.03 322.58Z" fill="#4472c4" stroke="#4472c4" stroke-width="0.3"/>
<path d="M445.80 351.10 L426.03 322.58 L426.60 322.51 L427.17 322.44 L427.73 322.38 L428.30 322.32 L428.87 322.26 L429.45 322.20 L430.02 322.15 L430.59 322.09 L431.16 322.04 L431.74 321.99 L432.31 321.94 L432.89 321.90 L433.46 321.86 L434.04 321.81 L434.61 321.77 L435.19 321.74 L435.77 321.70 L436.35 321.67 L436.92 321.64 L437.50 321.61 L438.08 321.58 L438.66 321.55 L439.24 321.53 L439.82 321.51 L440.40 321.49 L440.98 321.47 L441.56 321.46 L442.14 321.44 L442.72 321.43 L443.30 321.42 L443.89 321.41 L444.47 321.41 L445.05 321.40Z" fill="#70ad47" stroke="#70ad47" stroke-width="0.3"/>
<path d="M445.80 351.10 L445.05 321.40 L445.62 321.40 L446.19 321.40 L446.76 321.41 L447.33 321.41 L447.90 321.42 L448.48 321.42 L449.05 321.43 L449.62 321.45 L450.19 321.46 L450.76 321.48 L451.33 321.49 L451.90 321.51 L452.47 321.53 L453.04 321.56 L453.61 321.58 L454.18 321.61 L454.75 321.64 L455.31 321.67 L455.88 321.70 L456.45 321.74 L457.02 321.78 L457.58 321.82 L458.15 321.86 L458.72 321.90 L459.28 321.94 L459.85 321.99 L460.41 322.04 L460.97 322.09 L461.54 322.14 L462.10 322.20 L462.66 322.25 L463.22 322.31 L463.78 322.37 L464.34 322.43 L464.90 322.50 L465.46 322.56 L466.01 322.63 L466.57 322.70 L467.12 322.77 L467.68 322.85 L468.23 322.92 L468.78 323.00 L469.33 323.08 L469.88 323.16 L470.43 323.24 L470.98 323.33 L471.53 323.42 L472.08 323.51 L472.62 323.60 L473.17 323.69 L473.71 323.78 L474.25 323.88 L474.79 323.98 L475.33 324.08 L475.87 324.18 L476.40 324.29 L476.94 324.39 L477.47 324.50 L478.00 324.61 L478.54 324.72 L479.07 324.84 L479.59 324.95 L480.12 325.07 L480.65 325.19 L481.17 325.31 L481.69 325.44 L482.21 325.56 L482.73 325.69 L483.25 325.82 L483.76 325.95Z" fill="#255e91" stroke="#255e91" stroke-width="0.3"/>
<path d="M445.80 351.10 L483.76 325.95 L484.28 326.08 L484.79 326.22 L485.31 326.36 L485.82 326.49 L486.33 326.64 L486.84 326.78 L487.34 326.92 L487.84 327.07 L488.35 327.22 L488.85 327.37 L489.34 327.52 L489.84 327.68 L490.33 327.83 L490.82 327.99 L491.31 328.15 L491.80 328.32 L492.29 328.48 L492.77 328.65 L493.25 328.81 L493.73 328.98 L494.20 329.16 L494.68 329.33 L495.15 329.50 L495.62 329.68 L496.08 329.86 L496.55 330.04 L497.01 330.22 L497.47 330.41 L497.92 330.59 L498.38 330.78 L498.83 330.97 L499.27 331.17 L499.72 331.36 L500.16 331.55 L500.60 331.75 L501.04 331.95 L501.47 332.15 L501.91 332.36 L502.33 332.56 L502.76 332.77 L503.18 332.98 L503.60 333.19 L504.02 333.40 L504.43 333.61 L504.84 333.83 L505.25 334.04 L505.65 334.26 L506.05 334.48 L506.45 334.71 L506.85 334.93 L507.24 335.16 L507.63 335.38 L508.01 335.61 L508.39 335.85 L508.77 336.08 L509.14 336.31 L509.51 336.55 L509.88 336.79 L510.24 337.03 L510.60 337.27 L510.96 337.51 L511.31 337.76 L511.66 338.00 L512.00 338.25 L512.34 338.50 L512.68 338.75 L513.01 339.00 L513.34 339.26 L513.66 339.52 L513.98 339.77 L514.30 340.03 L514.61 340.29 L514.92 340.56 L515.23 340.82 L515.53 341.09 L515.82 341.35 L516.11 341.62 L516.40 341.89 L516.68 342.16 L516.96 342.44 L517.24 342.71Z" fill="#9e480e" stroke="#9e480e" stroke-width="0.3"/>
<path d="M445.80 351.10 L517.24 342.71 L517.43 342.91Z" fill="#636363" stroke="#636363" stroke-width="0.3"/>
<path d="M445.80 351.10 L517.43 342.91 L517.62 343.10Z" fill="#264478" stroke="#264478" stroke-width="0.3"/>
<g transform="translate(458.2,355.5) scale(1.015,1.05) translate(-445.8,-351.1)"><path d="M524.39 357.94 L524.38 358.60 L524.34 359.25 L524.28 359.91 L524.19 360.57 L524.07 361.23 L523.93 361.89 L523.76 362.56 L523.57 363.22 L523.35 363.88 L523.10 364.55 L522.82 365.21 L522.52 365.87 L522.19 366.54 L521.83 367.20 L521.44 367.86 L521.03 368.52 L520.59 369.18 L520.11 369.83 L519.62 370.49 L519.09 371.14 L518.53 371.79 L517.95 372.43 L517.34 373.08 L516.70 373.71 L516.03 374.35 L515.33 374.98 L514.60 375.60 L513.85 376.23 L513.07 376.84 L512.26 377.45 L511.42 378.06 L510.55 378.65 L509.66 379.25 L508.74 379.83 L507.79 380.41 L506.81 380.98 L505.81 381.54 L504.78 382.10 L503.72 382.64 L502.64 383.18 L501.53 383.71 L500.40 384.23 L499.24 384.74 L498.06 385.24 L496.85 385.73 L495.62 386.21 L494.36 386.68 L493.08 387.13 L491.78 387.58 L490.46 388.01 L489.12 388.43 L487.75 388.84 L486.37 389.24 L484.96 389.63 L483.54 390.00 L482.09 390.36 L480.63 390.70 L479.15 391.03 L477.66 391.35 L476.15 391.65 L474.62 391.94 L473.08 392.21 L471.52 392.47 L469.96 392.72 L468.38 392.95 L466.78 393.16 L465.18 393.36 L463.57 393.54 L461.95 393.71 L460.32 393.86 L458.68 393.99 L457.03 394.11 L455.38 394.21 L453.73 394.30 L452.07 394.37 L450.41 394.42 L448.74 394.46 L447.08 394.48 L445.41 394.49 L445.41 411.79 L447.08 411.78 L448.74 411.76 L450.41 411.72 L452.07 411.66 L453.73 411.59 L455.38 411.49 L457.03 411.38 L458.68 411.26 L460.32 411.11 L461.95 410.95 L463.57 410.77 L465.18 410.57 L466.78 410.36 L468.38 410.13 L469.96 409.89 L471.52 409.62 L473.08 409.35 L474.62 409.05 L476.15 408.74 L477.66 408.42 L479.15 408.07 L480.63 407.72 L482.09 407.35 L483.54 406.96 L484.96 406.56 L486.37 406.15 L487.75 405.72 L489.12 405.28 L490.46 404.83 L491.78 404.36 L493.08 403.88 L494.36 403.39 L495.62 402.89 L496.85 402.37 L498.06 401.85 L499.24 401.31 L500.40 400.76 L501.53 400.20 L502.64 399.64 L503.72 399.06 L504.78 398.47 L505.81 397.87 L506.81 397.27 L507.79 396.66 L508.74 396.04 L509.66 395.41 L510.55 394.77 L511.42 394.13 L512.26 393.48 L513.07 392.82 L513.85 392.16 L514.60 391.49 L515.33 390.82 L516.03 390.14 L516.70 389.46 L517.34 388.78 L517.95 388.09 L518.53 387.39 L519.09 386.70 L519.62 386.00 L520.11 385.29 L520.59 384.59 L521.03 383.88 L521.44 383.17 L521.83 382.46 L522.19 381.75 L522.52 381.04 L522.82 380.32 L523.10 379.61 L523.35 378.90 L523.57 378.18 L523.76 377.47 L523.93 376.76 L524.07 376.05 L524.19 375.34 L524.28 374.63 L524.34 373.92 L524.38 373.22 L524.39 372.52Z" fill="#2f4b1b"/><path d="M445.80 351.10 L517.62 343.10 L517.88 343.38 L518.13 343.66 L518.39 343.94 L518.63 344.22 L518.88 344.50 L519.11 344.78 L519.35 345.06 L519.58 345.35 L519.80 345.64 L520.02 345.93 L520.23 346.22 L520.44 346.51 L520.65 346.80 L520.84 347.09 L521.04 347.39 L521.23 347.68 L521.41 347.98 L521.59 348.28 L521.76 348.58 L521.93 348.88 L522.10 349.18 L522.25 349.48 L522.41 349.79 L522.55 350.09 L522.70 350.40 L522.83 350.70 L522.96 351.01 L523.09 351.32 L523.21 351.63 L523.32 351.94 L523.43 352.25 L523.54 352.57 L523.63 352.88 L523.72 353.20 L523.81 353.51 L523.89 353.83 L523.97 354.15 L524.03 354.47 L524.10 354.78 L524.15 355.10 L524.20 355.42 L524.25 355.75 L524.29 356.07 L524.32 356.39 L524.35 356.71 L524.37 357.04 L524.38 357.36 L524.39 357.69 L524.39 358.01 L524.39 358.34 L524.38 358.67 L524.36 359.00 L524.33 359.32 L524.31 359.65 L524.27 359.98 L524.23 360.31 L524.18 360.64 L524.12 360.97 L524.06 361.30 L523.99 361.63 L523.92 361.96 L523.83 362.29 L523.74 362.62 L523.65 362.95 L523.55 363.28 L523.44 363.61 L523.32 363.95 L523.20 364.28 L523.07 364.61 L522.94 364.94 L522.79 365.27 L522.65 365.60 L522.49 365.93 L522.33 366.27 L522.16 366.60 L521.98 366.93 L521.80 367.26 L521.60 367.59 L521.41 367.92 L521.20 368.25 L520.99 368.58 L520.77 368.90 L520.55 369.23 L520.31 369.56 L520.07 369.89 L519.83 370.21 L519.57 370.54 L519.31 370.87 L519.05 371.19 L518.77 371.52 L518.49 371.84 L518.20 372.16 L517.90 372.48 L517.60 372.80 L517.29 373.12 L516.97 373.44 L516.65 373.76 L516.32 374.08 L515.98 374.39 L515.63 374.71 L515.28 375.02 L514.92 375.34 L514.55 375.65 L514.18 375.96 L513.80 376.27 L513.41 376.58 L513.01 376.88 L512.61 377.19 L512.20 377.49 L511.79 377.79 L511.36 378.09 L510.93 378.39 L510.50 378.69 L510.05 378.99 L509.60 379.28 L509.14 379.57 L508.68 379.87 L508.21 380.15 L507.73 380.44 L507.24 380.73 L506.75 381.01 L506.25 381.29 L505.75 381.57 L505.24 381.85 L504.72 382.13 L504.20 382.40 L503.66 382.67 L503.13 382.94 L502.58 383.21 L502.03 383.47 L501.47 383.74 L500.91 384.00 L500.34 384.25 L499.76 384.51 L499.18 384.76 L498.59 385.01 L498.00 385.26 L497.40 385.51 L496.79 385.75 L496.18 385.99 L495.56 386.23 L494.94 386.46 L494.31 386.70 L493.67 386.92 L493.03 387.15 L492.38 387.38 L491.73 387.60 L491.07 387.81 L490.41 388.03 L489.74 388.24 L489.07 388.45 L488.39 388.66 L487.70 388.86 L487.01 389.06 L486.32 389.26 L485.62 389.45 L484.91 389.64 L484.20 389.83 L483.49 390.01 L482.77 390.19 L482.05 390.37 L481.32 390.54 L480.59 390.71 L479.85 390.88 L479.11 391.04 L478.37 391.20 L477.62 391.36 L476.86 391.51 L476.11 391.66 L475.35 391.81 L474.58 391.95 L473.81 392.09 L473.04 392.22 L472.27 392.35 L471.49 392.48 L470.71 392.60 L469.92 392.72 L469.14 392.84 L468.35 392.95 L467.55 393.06 L466.76 393.16 L465.96 393.26 L465.15 393.36 L464.35 393.45 L463.54 393.54 L462.74 393.63 L461.92 393.71 L461.11 393.79 L460.30 393.86 L459.48 393.93 L458.66 393.99 L457.84 394.05 L457.02 394.11 L456.20 394.17 L455.37 394.21 L454.54 394.26 L453.72 394.30 L452.89 394.34 L452.06 394.37 L451.23 394.40 L450.40 394.42 L449.57 394.44 L448.74 394.46 L447.91 394.47 L447.07 394.48 L446.24 394.49 L445.41 394.49Z" fill="#548235"/></g>
<text x="396.00" y="321.40" font-family='"Liberation Sans", sans-serif' font-size="9.4" font-weight="normal" fill="#404040" text-anchor="start" textLength="11.70" lengthAdjust="spacingAndGlyphs" stroke="#404040" stroke-width="0.3">5.1%</text>
<text x="428.40" y="318.80" font-family='"Liberation Sans", sans-serif' font-size="9.4" font-weight="normal" fill="#404040" text-anchor="start" textLength="12.90" lengthAdjust="spacingAndGlyphs" stroke="#404040" stroke-width="0.3">4.7%</text>
<text x="450.30" y="334.00" font-family='"Liberation Sans", sans-serif' font-size="9.4" font-weight="normal" fill="#16324f" text-anchor="start" textLength="15.00" lengthAdjust="spacingAndGlyphs" stroke="#16324f" stroke-width="0.3">9.8%</text>
<text x="484.00" y="341.10" font-family='"Liberation Sans", sans-serif' font-size="9.4" font-weight="normal" fill="#3b1c06" text-anchor="start" textLength="13.70" lengthAdjust="spacingAndGlyphs" stroke="#3b1c06" stroke-width="0.3">11.4%</text>
<text x="512.70" y="334.40" font-family='"Liberation Sans", sans-serif' font-size="9.4" font-weight="normal" fill="#404040" text-anchor="start" textLength="11.30" lengthAdjust="spacingAndGlyphs" stroke="#404040" stroke-width="0.3">0.1%</text>
<text x="521.00" y="347.70" font-family='"Liberation Sans", sans-serif' font-size="9.4" font-weight="normal" fill="#404040" text-anchor="start" textLength="11.60" lengthAdjust="spacingAndGlyphs" stroke="#404040" stroke-width="0.3">0.1%</text>
<text x="382.00" y="348.90" font-family='"Liberation Sans", sans-serif' font-size="9.4" font-weight="normal" fill="#4a3a05" text-anchor="start" textLength="14.00" lengthAdjust="spacingAndGlyphs" stroke="#4a3a05" stroke-width="0.3">21.6%</text>
<text x="405.70" y="385.80" font-family='"Liberation Sans", sans-serif' font-size="9.4" font-weight="normal" fill="#5a2f10" text-anchor="start" textLength="15.10" lengthAdjust="spacingAndGlyphs" stroke="#5a2f10" stroke-width="0.3">15.5%</text>
<text x="358.00" y="386.20" font-family='"Liberation Sans", sans-serif' font-size="9.4" font-weight="normal" fill="#404040" text-anchor="start" textLength="12.30" lengthAdjust="spacingAndGlyphs" stroke="#404040" stroke-width="0.3">2.9%</text>
<path d="M409.2 320.5L415.2 323.4" stroke="#bfbfbf" stroke-width="0.6" fill="none"/>
<path d="M518.9 335.5V343.6" stroke="#a6a6a6" stroke-width="0.6" fill="none"/>
<path d="M527 402L538.8 409.2H541.6" stroke="#a6a6a6" stroke-width="0.7" fill="none"/>
<text x="542.70" y="408.50" font-family='"Liberation Sans", sans-serif' font-size="15.2" font-weight="bold" fill="#111" text-anchor="start" textLength="32.80" lengthAdjust="spacingAndGlyphs" stroke="#111" stroke-width="0.4">28.9%</text>
<text x="576.50" y="420.00" font-family='"Liberation Sans", sans-serif' font-size="12.2" font-weight="bold" fill="#111" text-anchor="start" textLength="35.20" lengthAdjust="spacingAndGlyphs" stroke="#111" stroke-width="0.35">Worker's</text>
<text x="576.50" y="433.80" font-family='"Liberation Sans", sans-serif' font-size="12.2" font-weight="bold" fill="#111" text-anchor="start" textLength="43.70" lengthAdjust="spacingAndGlyphs" stroke="#111" stroke-width="0.35">Remittance</text>
<rect x="318.50" y="443.90" width="3.50" height="3.50" fill="#548235"/>
<text x="323.70" y="448.70" font-family='"Liberation Sans", sans-serif' font-size="9.3" font-weight="normal" fill="#3b4a5c" text-anchor="start" textLength="53.70" lengthAdjust="spacingAndGlyphs" stroke="#3b4a5c" stroke-width="0.25">Worker's Remittance</text>
<rect x="409.10" y="443.90" width="3.50" height="3.50" fill="#ed7d31"/>
<text x="414.80" y="448.70" font-family='"Liberation Sans", sans-serif' font-size="9.3" font-weight="normal" fill="#3b4a5c" text-anchor="start" textLength="20.60" lengthAdjust="spacingAndGlyphs" stroke="#3b4a5c" stroke-width="0.25">Tourism</text>
<rect x="500.00" y="443.90" width="3.50" height="3.50" fill="#a5a5a5"/>
<text x="505.50" y="448.70" font-family='"Liberation Sans", sans-serif' font-size="9.3" font-weight="normal" fill="#3b4a5c" text-anchor="start" textLength="65.20" lengthAdjust="spacingAndGlyphs" stroke="#3b4a5c" stroke-width="0.25">Food,Beverages&amp;Tobacco</text>
<rect x="318.50" y="454.00" width="3.50" height="3.50" fill="#ffc000"/>
<text x="323.70" y="458.80" font-family='"Liberation Sans", sans-serif' font-size="9.3" font-weight="normal" fill="#3b4a5c" text-anchor="start" textLength="52.70" lengthAdjust="spacingAndGlyphs" stroke="#3b4a5c" stroke-width="0.25">Textile andGarments</text>
<rect x="409.10" y="454.00" width="3.50" height="3.50" fill="#4472c4"/>
<text x="414.80" y="458.80" font-family='"Liberation Sans", sans-serif' font-size="9.3" font-weight="normal" fill="#3b4a5c" text-anchor="start" textLength="49.30" lengthAdjust="spacingAndGlyphs" stroke="#3b4a5c" stroke-width="0.25">PetroleumProducts</text>
<rect x="500.00" y="454.00" width="3.50" height="3.50" fill="#70ad47"/>
<text x="505.50" y="458.80" font-family='"Liberation Sans", sans-serif' font-size="9.3" font-weight="normal" fill="#3b4a5c" text-anchor="start" textLength="62.60" lengthAdjust="spacingAndGlyphs" stroke="#3b4a5c" stroke-width="0.25">Leather,RubberProducts</text>
<rect x="318.50" y="464.90" width="3.50" height="3.50" fill="#255e91"/>
<text x="323.70" y="469.70" font-family='"Liberation Sans", sans-serif' font-size="9.3" font-weight="normal" fill="#3b4a5c" text-anchor="start" textLength="14.90" lengthAdjust="spacingAndGlyphs" stroke="#3b4a5c" stroke-width="0.25">Other</text>
<rect x="409.10" y="464.90" width="3.50" height="3.50" fill="#9e480e"/>
<text x="414.80" y="469.70" font-family='"Liberation Sans", sans-serif' font-size="9.3" font-weight="normal" fill="#3b4a5c" text-anchor="start" textLength="51.40" lengthAdjust="spacingAndGlyphs" stroke="#3b4a5c" stroke-width="0.25">Agricultural exports</text>
<rect x="500.00" y="464.90" width="3.50" height="3.50" fill="#636363"/>
<text x="505.50" y="469.70" font-family='"Liberation Sans", sans-serif' font-size="9.3" font-weight="normal" fill="#3b4a5c" text-anchor="start" textLength="39.80" lengthAdjust="spacingAndGlyphs" stroke="#3b4a5c" stroke-width="0.25">Mineral exports</text>
<rect x="318.50" y="475.60" width="3.50" height="3.50" fill="#264478"/>
<text x="323.70" y="480.40" font-family='"Liberation Sans", sans-serif' font-size="9.3" font-weight="normal" fill="#3b4a5c" text-anchor="start" textLength="52.30" lengthAdjust="spacingAndGlyphs" stroke="#3b4a5c" stroke-width="0.25">Unclassified exports</text>
</svg>
</body></html>
